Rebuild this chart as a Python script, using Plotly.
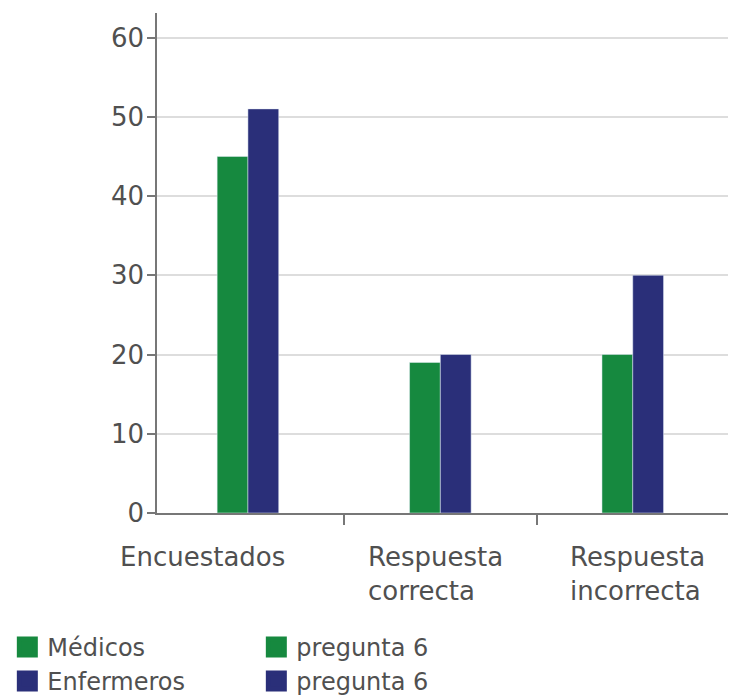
import plotly.graph_objects as go

categories = ["Encuestados", "Respuesta correcta", "Respuesta incorrecta"]
category_labels = ["Encuestados", "Respuesta<br>correcta", "Respuesta<br>incorrecta"]
medicos = [45, 19, 20]
enfermeros = [51, 20, 30]
legend_names = ["Médicos", "pregunta 6", "Enfermeros", "pregunta 6"]
y_ticks = [0, 10, 20, 30, 40, 50, 60]

GREEN = "#16893F"
BLUE = "#2A2F79"
TEXT = "#505050"
FONT = "DejaVu Sans"

fig = go.Figure()
fig.add_trace(go.Bar(x=categories, y=medicos, marker_color=GREEN, width=0.16, offset=-0.16,
                     showlegend=False, legendgroup="g"))
fig.add_trace(go.Bar(x=categories, y=enfermeros, marker_color=BLUE, width=0.16, offset=0.0,
                     showlegend=False, legendgroup="b"))

legend_colors = [GREEN, GREEN, BLUE, BLUE]
legend_groups = ["g", "g", "b", "b"]
for name, col, grp in zip(legend_names, legend_colors, legend_groups):
    fig.add_trace(go.Scatter(x=[None], y=[None], mode="markers", name=name, legendgroup=grp,
                             marker=dict(symbol="square", size=16, color=col,
                                         line=dict(color=col, width=5))))

# category labels, left aligned like the reference
shifts = [-130, -74, -65]
for cat, lab, sh in zip(categories, category_labels, shifts):
    fig.add_annotation(x=cat, y=0, xref="x", yref="paper", text=lab, showarrow=False,
                       xanchor="left", yanchor="top", align="left", xshift=sh, yshift=-27,
                       font=dict(family=FONT, size=26, color=TEXT))

fig.update_layout(
    width=733, height=695,
    margin=dict(l=157, r=5, t=13, b=182),
    paper_bgcolor="white", plot_bgcolor="white",
    barmode="overlay",
    font=dict(family=FONT, size=24, color=TEXT),
    legend=dict(orientation="h", xref="container", yref="container", x=0.010, y=0.101,
                xanchor="left", yanchor="top", entrywidth=204, traceorder="normal",
                font=dict(family=FONT, size=24, color=TEXT), tracegroupgap=0),
)
fig.update_xaxes(type="category", range=[-0.4726, 2.495], showticklabels=False,
                 tickson="boundaries", ticks="outside", ticklen=10, tickcolor="#777",
                 tickwidth=1.5, showline=True, linecolor="#777", linewidth=1.5,
                 showgrid=False, zeroline=False, fixedrange=True)
fig.update_yaxes(range=[0, 63.1], tickvals=y_ticks, ticks="outside", ticklen=8,
                 tickcolor="#777", tickwidth=1.5, showline=True, linecolor="#777",
                 linewidth=1.5, showgrid=True, gridcolor="#DDDDDD", gridwidth=1.5,
                 zeroline=False, tickfont=dict(family=FONT, size=26, color=TEXT),
                 ticklabelstandoff=-2)

fig.write_html("out.html")
